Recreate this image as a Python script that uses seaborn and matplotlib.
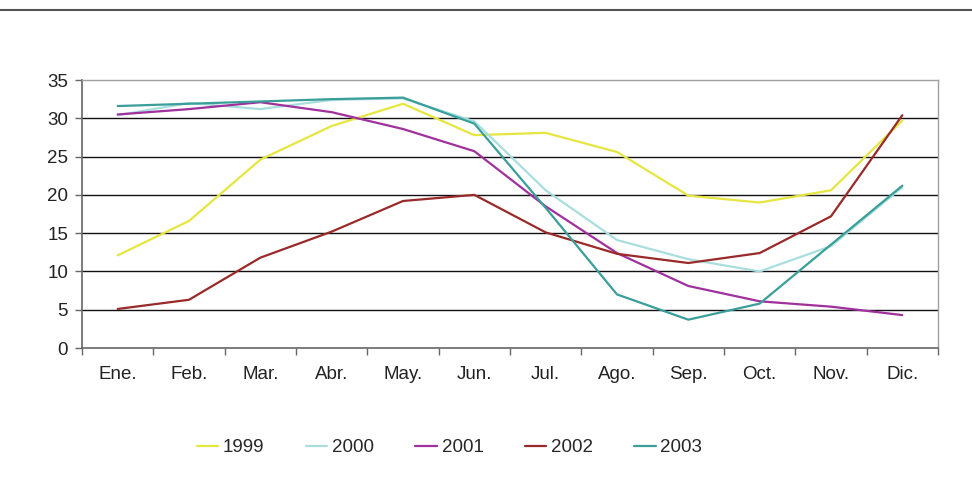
import pandas as pd
import numpy as np
import seaborn as sns
import matplotlib.pyplot as plt
from matplotlib.lines import Line2D

months = ['Ene.', 'Feb.', 'Mar.', 'Abr.', 'May.', 'Jun.', 'Jul.', 'Ago.', 'Sep.', 'Oct.', 'Nov.', 'Dic.']
years = ['1999', '2000', '2001', '2002', '2003']

v1999 = [12.1, 16.6, 24.6, 29.0, 31.9, 27.8, 28.1, 25.6, 19.9, 19.0, 20.6, 29.7]
v2000 = [30.4, 32.0, 31.2, 32.4, 32.6, 29.6, 20.6, 14.1, 11.6, 10.0, 13.3, 21.0]
v2001 = [30.5, 31.2, 32.1, 30.8, 28.6, 25.7, 18.5, 12.4, 8.1, 6.1, 5.4, 4.3]
v2002 = [5.1, 6.3, 11.8, 15.2, 19.2, 20.0, 15.1, 12.3, 11.1, 12.4, 17.2, 30.4]
v2003 = [31.6, 31.9, 32.2, 32.5, 32.7, 29.3, 18.3, 7.0, 3.7, 5.8, 13.5, 21.2]

colors = ['#e6e640', '#a9dede', '#a0309c', '#9a2a2a', '#3a9e9a']

df = pd.DataFrame({
    'mes': months * 5,
    'valor': v1999 + v2000 + v2001 + v2002 + v2003,
    'anio': np.repeat(years, 12),
})

sns.set_style('white')
plt.rcParams['font.family'] = ['Liberation Sans', 'DejaVu Sans']
plt.rcParams['font.size'] = 13.5

fig = plt.figure(figsize=(9.72, 4.93), dpi=100)
ax = fig.add_axes([0.0844, 0.2941, 0.8806, 0.5436])

sns.lineplot(data=df, x='mes', y='valor', hue='anio', palette=colors,
             linewidth=1.6, ax=ax, sort=False)

ax.set_xlim(-0.5, 11.5)
ax.set_ylim(0, 35)
ax.set_yticks(range(0, 36, 5))
ax.set_xlabel('')
ax.set_ylabel('')
ax.set_xticks(range(12))
ax.set_xticklabels(months)
ax.set_xticks(np.arange(-0.5, 12, 1), minor=True)
ax.tick_params(axis='x', which='major', length=0, pad=13, colors='#222222', labelsize=13.5)
ax.tick_params(axis='x', which='minor', length=5, width=1, color='#666666', direction='out', bottom=True)
ax.tick_params(axis='y', length=5, width=1, color='#666666', direction='out', left=True, pad=5,
               labelcolor='#222222', labelsize=13.5)
for y in range(5, 35, 5):
    ax.axhline(y, color='#111111', linewidth=1, zorder=0)

for side in ['top', 'right']:
    ax.spines[side].set_color('#a0a0a0')
    ax.spines[side].set_linewidth(1)
for side in ['left', 'bottom']:
    ax.spines[side].set_color('#666666')
    ax.spines[side].set_linewidth(1.2)

handles, labels = ax.get_legend_handles_labels()
ax.legend(handles, labels, loc='center', bbox_to_anchor=(0.4625, 0.092), bbox_transform=fig.transFigure,
          ncol=5, frameon=False, handlelength=1.15, handletextpad=0.25, columnspacing=2.2,
          fontsize=13.5)

fig.add_artist(Line2D([0, 1], [1 - 9.5 / 493, 1 - 9.5 / 493], transform=fig.transFigure,
                      color='#555555', linewidth=1.5))

fig.savefig('out.png', dpi=100)
